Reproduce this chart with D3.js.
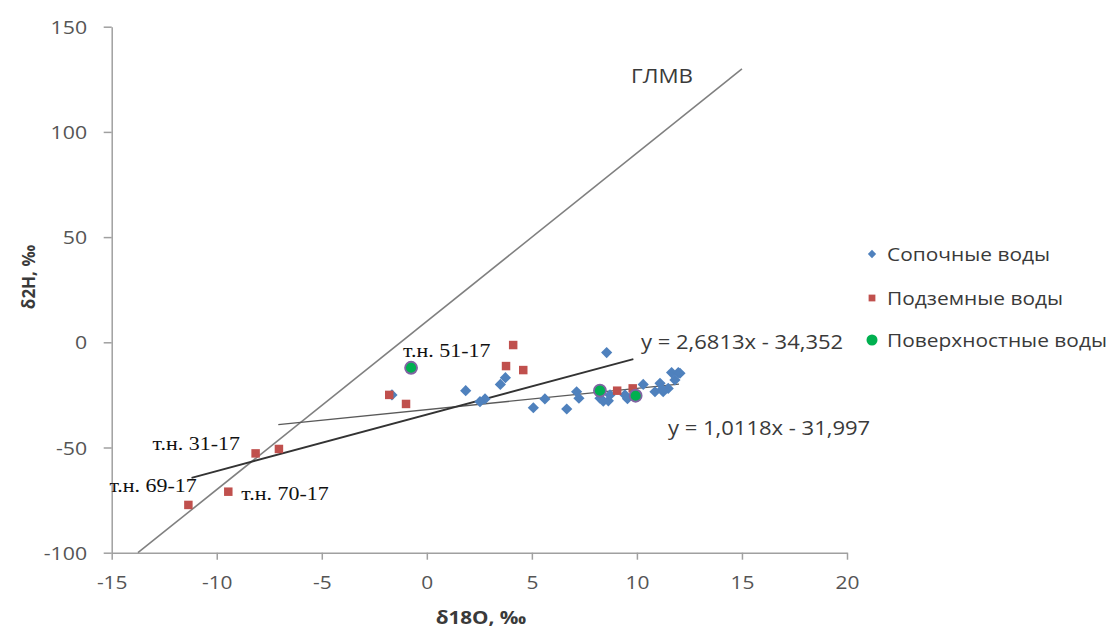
<!DOCTYPE html>
<html>
<head>
<meta charset="utf-8">
<script src="https://cdn.jsdelivr.net/npm/d3@7/dist/d3.min.js"></script>
<style>
  html, body { margin: 0; padding: 0; background: #fff; }
  svg { display: block; }
</style>
</head>
<body>
<svg id="chart" width="1114" height="633"></svg>
<script>
// Isotope data: δ18O (x) and δ2H (y), ‰
const mudVolcanoX = [8.56, -1.66, 1.85, 2.77, 2.53, 3.50, 3.74, 5.07, 5.62, 6.66, 7.13, 7.24, 8.24, 8.40, 8.64, 8.72, 9.43, 9.55, 10.30, 10.86, 11.10, 11.25, 11.49, 11.65, 11.97, 11.81, 12.05, 11.20];
const mudVolcanoY = [-4.9, -25.0, -23.0, -26.9, -28.2, -20.0, -16.8, -31.1, -26.9, -31.7, -23.5, -26.6, -26.6, -28.0, -27.8, -25.0, -25.0, -26.8, -20.0, -23.5, -19.5, -23.5, -21.9, -14.4, -14.4, -17.9, -14.7, -22.3];

const groundX = [-11.35, -9.45, -8.15, -7.04, -1.79, -0.99, 4.11, 3.77, 4.59, 9.06, 9.80];
const groundY = [-77.3, -71.0, -52.8, -50.7, -25.0, -29.3, -1.3, -11.3, -13.2, -23.0, -21.9];

const surfaceX = [-0.75, 8.24, 9.94];
const surfaceY = [-12.1, -23.0, -25.4];

// Point labels (sample ids) attached to ground / surface samples
const pointLabels = ["т.н. 51-17", "т.н. 31-17", "т.н. 69-17", "т.н. 70-17"];
const pointLabelX = [-0.75, -8.15, -11.35, -9.45];
const pointLabelY = [-12.1, -52.8, -77.3, -71.0];

// Global meteoric water line δ2H = 8·δ18O + 10, and two linear trends
const gmwlSlope = 8, gmwlIntercept = 10, gmwlRange = [-13.75, 15];
const trend1Slope = 2.6813, trend1Intercept = -34.352, trend1Range = [-11.2, 9.83];
const trend2Slope = 1.0118, trend2Intercept = -31.997, trend2Range = [-7.07, 12.0];

const xTicks = [-15, -10, -5, 0, 5, 10, 15, 20];
const yTicks = [-100, -50, 0, 50, 100, 150];

const seriesNames = ["Сопочные воды", "Подземные воды", "Поверхностные воды"];
const gmwlName = "ГЛМВ";
const xTitle = "δ18O, ‰";
const yTitle = "δ2H, ‰";

const svg = d3.select("#chart");
const x = d3.scaleLinear().domain([-15, 20]).range([111.7, 847]);
const y = d3.scaleLinear().domain([-100, 150]).range([552.7, 26.7]);

const SANS = "'Open Sans', 'Liberation Sans', sans-serif";
const SERIF = "'Liberation Serif', 'DejaVu Serif', serif";

function txt(parent, px, py, str, o) {
  const t = parent.append("text")
    .attr("transform", `translate(${px},${py}) scale(${o.sx || 1},1)`)
    .attr("font-family", o.family || SANS)
    .attr("font-size", o.size || 18)
    .attr("font-weight", o.weight || "normal")
    .attr("fill", o.fill || "#3a3a3a")
    .attr("text-anchor", o.anchor || "start")
    .text(str);
  return t;
}

// Axes
const axisColor = "#a0a0a0";
const xAxis = svg.append("g")
  .attr("transform", `translate(0,${y(-100)})`)
  .call(d3.axisBottom(x).tickValues(xTicks).tickSize(7).tickSizeOuter(0).tickFormat(d3.format("d")));
const yAxis = svg.append("g")
  .attr("transform", `translate(${x(-15)},0)`)
  .call(d3.axisLeft(y).tickValues(yTicks).tickSize(8).tickSizeOuter(0).tickFormat(d3.format("d")));

[xAxis, yAxis].forEach(a => {
  a.select(".domain").attr("stroke", axisColor).attr("stroke-width", 1.5);
  a.selectAll(".tick line").attr("stroke", axisColor).attr("stroke-width", 1.5);
  a.selectAll(".tick text")
    .attr("font-family", SANS).attr("font-size", 19).attr("fill", "#555555");
});
xAxis.selectAll(".tick text").attr("dy", 0).attr("y", 36)
  .text(d => d < 0 ? "-" + Math.abs(d) : d)
  .attr("transform", "scale(1.1,1)");
yAxis.selectAll(".tick text").attr("x", -22).attr("dy", "0.35em")
  .text(d => d < 0 ? "-" + Math.abs(d) : d)
  .attr("transform", "scale(1.12,1)");

// Lines
const line = (slope, intercept, range) => d3.line()
  .x(d => x(d)).y(d => y(slope * d + intercept))(range);

svg.append("path").attr("d", line(gmwlSlope, gmwlIntercept, gmwlRange))
  .attr("stroke", "#808080").attr("stroke-width", 1.6).attr("fill", "none");
svg.append("path").attr("d", line(trend2Slope, trend2Intercept, trend2Range))
  .attr("stroke", "#5a5a5a").attr("stroke-width", 1.4).attr("fill", "none");
svg.append("path").attr("d", line(trend1Slope, trend1Intercept, trend1Range))
  .attr("stroke", "#333333").attr("stroke-width", 1.8).attr("fill", "none");

// Markers
const blue = "#4F81BD", red = "#C0504D", green = "#00B050", purple = "#8064A2";
const diamond = d3.symbol().type(d3.symbolDiamond2).size(80)();
const square = d3.symbol().type(d3.symbolSquare).size(72)();

svg.append("g").selectAll("path").data(d3.range(mudVolcanoX.length)).join("path")
  .attr("d", diamond)
  .attr("transform", i => `translate(${x(mudVolcanoX[i])},${y(mudVolcanoY[i])})`)
  .attr("fill", blue);

svg.append("g").selectAll("path").data(d3.range(groundX.length)).join("path")
  .attr("d", square)
  .attr("transform", i => `translate(${x(groundX[i])},${y(groundY[i])})`)
  .attr("fill", red);

svg.append("g").selectAll("circle").data(d3.range(surfaceX.length)).join("circle")
  .attr("cx", i => x(surfaceX[i])).attr("cy", i => y(surfaceY[i]))
  .attr("r", 6)
  .attr("fill", green).attr("stroke", purple).attr("stroke-width", 1.8);

// Sample labels
const labelOffsets = [[-8, -11], [-103, -3], [-79, -13], [13, 8]];
pointLabels.forEach((s, i) => {
  txt(svg, x(pointLabelX[i]) + labelOffsets[i][0], y(pointLabelY[i]) + labelOffsets[i][1], s,
    { family: SERIF, size: 18, fill: "#111", sx: 1.22 });
});

// Line annotations
txt(svg, 631, 83, gmwlName, { size: 20, sx: 1.12 });
txt(svg, 641, 349, "y = 2,6813x - 34,352", { size: 20, sx: 1.1 });
txt(svg, 668, 435, "y = 1,0118x - 31,997", { size: 20, sx: 1.1 });

// Axis titles
txt(svg, 481, 624, xTitle, { size: 18, weight: "bold", anchor: "middle", sx: 1.15 });
svg.append("text")
  .attr("transform", "translate(35,277) rotate(-90)")
  .attr("font-family", SANS).attr("font-size", 17).attr("font-weight", "bold")
  .attr("fill", "#3a3a3a").attr("text-anchor", "middle").text(yTitle);

// Legend
const legendY = [254, 298, 340];
const legend = svg.append("g");
seriesNames.forEach((s, i) => {
  const lx = 872, ly = legendY[i];
  if (i === 0) legend.append("path").attr("d", d3.symbol().type(d3.symbolDiamond2).size(44)())
    .attr("transform", `translate(${lx},${ly})`).attr("fill", blue);
  if (i === 1) legend.append("path").attr("d", d3.symbol().type(d3.symbolSquare).size(46)())
    .attr("transform", `translate(${lx},${ly})`).attr("fill", red);
  if (i === 2) legend.append("circle").attr("cx", lx).attr("cy", ly).attr("r", 5.5)
    .attr("fill", green);
  txt(legend, 887, ly + 7, s, { size: 19, sx: 1.1 });
});
</script>
</body>
</html>
